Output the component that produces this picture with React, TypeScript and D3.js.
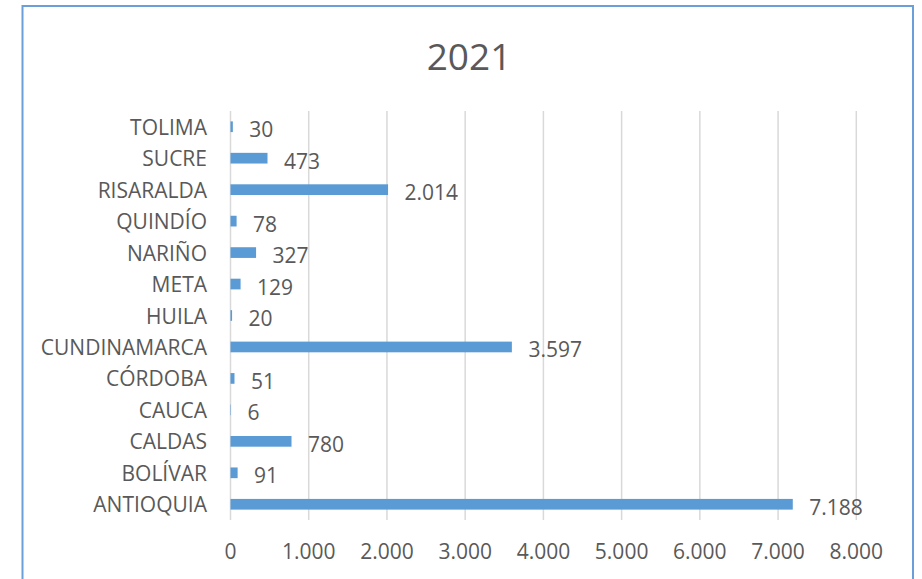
import React from "react";
import * as d3 from "d3";

const categories = ["ANTIOQUIA", "BOLÍVAR", "CALDAS", "CAUCA", "CÓRDOBA", "CUNDINAMARCA", "HUILA", "META", "NARIÑO", "QUINDÍO", "RISARALDA", "SUCRE", "TOLIMA"];
const values = [7188, 91, 780, 6, 51, 3597, 20, 129, 327, 78, 2014, 473, 30];
const tickValues = [0, 1000, 2000, 3000, 4000, 5000, 6000, 7000, 8000];
const title = "2021";

const W = 922, H = 579;
const FONT = "'Open Sans', sans-serif";
const TEXT = "#595959";
const BAR = "#5B9BD5";

const locale = d3.formatLocale({ decimal: ",", thousands: ".", grouping: [3], currency: ["$", ""] });
const fmt = locale.format(",d");

export default function App() {
  const x = d3.scaleLinear().domain([0, 8000]).range([230.5, 856.3]);
  const order = categories.slice().reverse();
  const y = d3.scaleBand<string>().domain(order).range([111, 520]).paddingInner(0.66).paddingOuter(0.33);
  const data = categories.map((c, i) => ({ c, v: values[i] }));
  return (
    <div style={{ position: "absolute", left: 0, top: 0 }}>
      <svg width={W} height={H} style={{ display: "block", background: "#fff" }}>
        <rect x={22.5} y={6} width={890.5} height={H + 10} fill="#fff" stroke="#6A9FDA" strokeWidth={2} />
        <text x={469} y={55} textAnchor="middle" dominantBaseline="central" fontFamily={FONT} fontSize={37} fill={TEXT}>{title}</text>
        {tickValues.map((t) => (
          <g key={t}>
            <line x1={x(t)} x2={x(t)} y1={111} y2={520} stroke="#D9D9D9" strokeWidth={1.5} />
            <text x={x(t)} y={551} textAnchor="middle" dominantBaseline="central" fontFamily={FONT} fontSize={21} fill={TEXT}>{fmt(t)}</text>
          </g>
        ))}
        {data.map((d) => {
          const yy = y(d.c)!;
          const bw = y.bandwidth();
          const cy = yy + bw / 2;
          return (
            <g key={d.c}>
              <rect x={x(0)} y={yy} width={x(d.v) - x(0)} height={bw} fill={BAR} />
              <text x={207} y={cy} textAnchor="end" dominantBaseline="central" fontFamily={FONT} fontSize={21} fill={TEXT}>{d.c}</text>
              <text x={x(d.v) + 16.5} y={cy + 2.5} dominantBaseline="central" fontFamily={FONT} fontSize={21} fill={TEXT}>{fmt(d.v)}</text>
            </g>
          );
        })}
      </svg>
    </div>
  );
}
